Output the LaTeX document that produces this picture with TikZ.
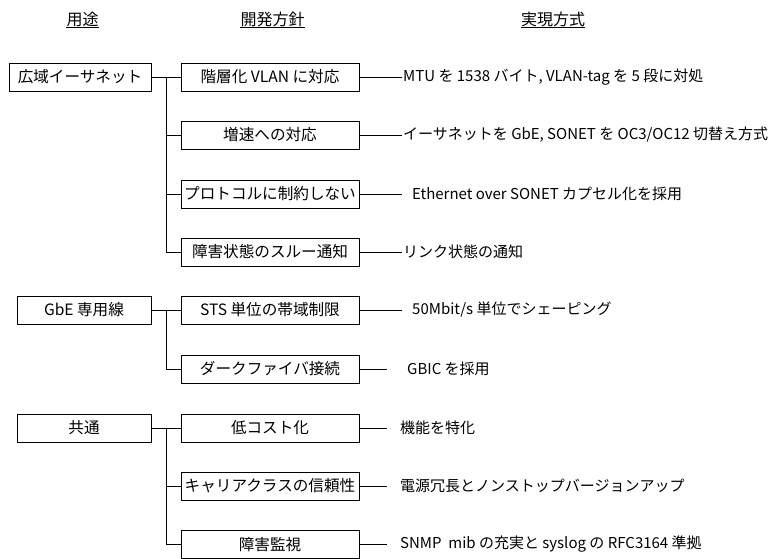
\documentclass[tikz,border=0pt]{standalone}
\usepackage{fontspec}
\setmainfont{Noto Sans CJK JP}
\begin{document}
\begin{tikzpicture}[x=1pt,y=-1pt,
  box/.style={draw,line width=1pt,minimum height=28pt,inner sep=0pt,font=\fontsize{15.6}{17}\selectfont},
  desc/.style={anchor=west,inner sep=0pt,font=\fontsize{15}{16}\selectfont},
  head/.style={inner sep=0pt,font=\fontsize{16}{17}\selectfont},
  conn/.style={line width=1pt}]
\useasboundingbox (0,0) rectangle (775,558);
% headings
\node[head] (h1) at (82.5,19) {用途};
\node[head] (h2) at (272.5,19) {開発方針};
\node[head] (h3) at (553,19) {実現方式};
\foreach \h in {h1,h2,h3}{
  \draw[line width=0.8pt] ([yshift=-1pt]\h.south west) -- ([yshift=-1pt]\h.south east);
}
% left boxes
\node[box,minimum width=142pt] (u1) at (80,77) {広域イーサネット};
\node[box,minimum width=134pt] (u2) at (84,310) {GbE 専用線};
\node[box,minimum width=134pt] (u3) at (84,428) {共通};
% middle boxes
\node[box,minimum width=178pt] (p1) at (270,77) {階層化 VLAN に対応};
\node[box,minimum width=178pt] (p2) at (270,135) {増速への対応};
\node[box,minimum width=178pt] (p3) at (270,194) {プロトコルに制約しない};
\node[box,minimum width=178pt] (p4) at (270,252) {障害状態のスルー通知};
\node[box,minimum width=178pt] (p5) at (270,310) {STS 単位の帯域制限};
\node[box,minimum width=178pt] (p6) at (270,369) {ダークファイバ接続};
\node[box,minimum width=178pt] (p7) at (270,428) {低コスト化};
\node[box,minimum width=178pt] (p8) at (270,486) {キャリアクラスの信頼性};
\node[box,minimum width=178pt] (p9) at (270,544.5) {障害監視};
% right descriptions
\coordinate (e1) at (402,77);
\coordinate (e2) at (402,135);
\coordinate (e3) at (402,194);
\coordinate (e4) at (402,252);
\coordinate (e5) at (402,310);
\coordinate (e6) at (387,369);
\coordinate (e7) at (387,428);
\coordinate (e8) at (387,486);
\coordinate (e9) at (387,544.5);
\node[desc] (r1) at (403,77) {MTU を 1538 バイト, VLAN-tag を 5 段に対処};
\node[desc] (r2) at (403,135) {イーサネットを GbE, SONET を OC3/OC12 切替え方式};
\node[desc] (r3) at (412,194) {Ethernet over SONET カプセル化を採用};
\node[desc] (r4) at (403,252) {リンク状態の通知};
\node[desc] (r5) at (412,310) {50Mbit/s 単位でシェーピング};
\node[desc] (r6) at (407,369) {GBIC を採用};
\node[desc] (r7) at (400,428) {機能を特化};
\node[desc] (r8) at (400,486) {電源冗長とノンストップバージョンアップ};
\node[desc] (r9) at (400,544.5) {SNMP\ \ mib の充実と syslog の RFC3164 準拠};
\foreach \i in {1,...,9}{\draw[conn] (p\i.east) -- (e\i);}
% tree connectors
\coordinate (j1) at (166,77);
\coordinate (j2) at (166,310);
\coordinate (j3) at (166,428);
\draw[conn] (u1.east) -- (p1.west);
\draw[conn] (j1) |- (p4.west);
\draw[conn] (j1 |- p2.west) -- (p2.west);
\draw[conn] (j1 |- p3.west) -- (p3.west);
\draw[conn] (u2.east) -- (p5.west);
\draw[conn] (j2) |- (p6.west);
\draw[conn] (u3.east) -- (p7.west);
\draw[conn] (j3) |- (p9.west);
\draw[conn] (j3 |- p8.west) -- (p8.west);
\end{tikzpicture}
\end{document}
